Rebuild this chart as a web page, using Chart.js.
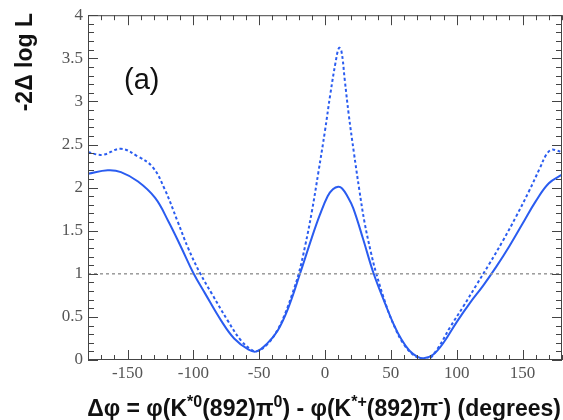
<!DOCTYPE html>
<html>
<head>
<meta charset="utf-8">
<script src="https://cdn.jsdelivr.net/npm/chart.js@4.4.1/dist/chart.umd.min.js"></script>
<style>
  html, body { margin: 0; padding: 0; background: #fff; }
  #wrap { width: 563px; height: 420px; }
</style>
</head>
<body>
<div id="wrap"><canvas id="scanChart" width="563" height="420"></canvas></div>
<script>
// scan of -2 delta log L versus the phase difference (degrees)
const solidPhi = [-180, -165, -155, -142, -129, -119, -109, -100, -91, -79, -69, -58, -52, -44, -36, -28, -19, -10, -4, 2, 6, 10, 13, 17, 21.5, 29, 37, 45, 52, 58, 64, 70, 75, 82, 90, 100, 110, 120, 130, 140, 150, 160, 170, 180]
const solidVal = [2.16, 2.20, 2.18, 2.07, 1.88, 1.61, 1.30, 1.01, 0.77, 0.46, 0.25, 0.12, 0.10, 0.19, 0.34, 0.60, 1.00, 1.42, 1.68, 1.90, 1.98, 2.01, 1.99, 1.90, 1.76, 1.40, 1.00, 0.68, 0.42, 0.24, 0.11, 0.04, 0.02, 0.06, 0.20, 0.44, 0.66, 0.86, 1.08, 1.32, 1.58, 1.84, 2.05, 2.15]

const dashPhi = [-180, -169, -155, -142, -131, -122, -112, -104, -95, -86, -74, -64, -56, -52, -44, -36, -30, -25, -20, -15, -10, -5, 0, 4, 8, 10.6, 12.5, 15, 18, 22, 26, 30, 35, 39, 47, 53, 59.5, 68, 77, 85, 95, 105, 115, 125, 135, 145, 155, 163, 168, 172, 176, 180]
const dashVal = [2.41, 2.38, 2.45, 2.36, 2.24, 1.99, 1.61, 1.30, 1.01, 0.77, 0.46, 0.23, 0.12, 0.10, 0.18, 0.35, 0.55, 0.76, 1.00, 1.33, 1.72, 2.18, 2.66, 3.08, 3.45, 3.62, 3.58, 3.25, 2.85, 2.40, 1.98, 1.60, 1.24, 1.00, 0.61, 0.38, 0.19, 0.05, 0.00, 0.12, 0.38, 0.62, 0.87, 1.12, 1.38, 1.66, 1.96, 2.22, 2.38, 2.44, 2.43, 2.41]

const refPhi = [-180, 180]
const refVal = [1, 1]

const xTickLabels = [-150, -100, -50, 0, 50, 100, 150]

const yTitle = '-2\u0394 log L'
// x title pieces: [text, superscript?]
const xTitleParts = [
  ['\u0394\u03c6 = \u03c6(K', false], ['*0', true], ['(892)\u03c0', false], ['0', true],
  [') - \u03c6(K', false], ['*+', true], ['(892)\u03c0', false], ['-', true], [') (degrees)', false]
]
const panelLabel = '(a)'

const blue = '#2a5cf0'

function pts(xs, ys) {
  return xs.map((x, i) => ({ x: x, y: ys[i] }))
}

// frame, inward ticks and the text around the plot
const framePlugin = {
  id: 'frame',
  afterDraw(chart) {
    const ctx = chart.ctx
    const a = chart.chartArea
    const xs = chart.scales.x
    const ys = chart.scales.y
    ctx.save()
    ctx.strokeStyle = '#444'
    ctx.lineWidth = 1
    ctx.strokeRect(a.left + 0.5, a.top + 0.5, a.right - a.left - 1, a.bottom - a.top - 1)

    ctx.beginPath()
    for (let v = -180; v <= 180; v += 10) {
      const px = Math.round(xs.getPixelForValue(v)) + 0.5
      const len = (v % 50 === 0) ? 10 : 5
      ctx.moveTo(px, a.bottom); ctx.lineTo(px, a.bottom - len)
      ctx.moveTo(px, a.top); ctx.lineTo(px, a.top + len)
    }
    for (let k = 0; k <= 40; k++) {
      const py = Math.round(ys.getPixelForValue(k / 10)) + 0.5
      const len = (k % 5 === 0) ? 10 : 6
      ctx.moveTo(a.left, py); ctx.lineTo(a.left + len, py)
      ctx.moveTo(a.right, py); ctx.lineTo(a.right - len, py)
    }
    ctx.stroke()

    ctx.fillStyle = '#111'
    // y title
    ctx.save()
    ctx.translate(26, 13)
    ctx.rotate(-Math.PI / 2)
    ctx.font = 'bold 23px "Liberation Sans", Arial, sans-serif'
    ctx.textAlign = 'right'
    ctx.textBaseline = 'middle'
    ctx.fillText(yTitle, 0, 0)
    ctx.restore()

    // x title with superscripts
    const big = 'bold 23px "Liberation Sans", Arial, sans-serif'
    const small = 'bold 16px "Liberation Sans", Arial, sans-serif'
    let w = 0
    xTitleParts.forEach(p => { ctx.font = p[1] ? small : big; w += ctx.measureText(p[0]).width })
    let cx = 561 - w
    const base = 416
    ctx.textAlign = 'left'
    ctx.textBaseline = 'alphabetic'
    xTitleParts.forEach(p => {
      ctx.font = p[1] ? small : big
      ctx.fillText(p[0], cx, p[1] ? base - 9 : base)
      cx += ctx.measureText(p[0]).width
    })

    // panel label
    ctx.font = '29px "Liberation Sans", Arial, sans-serif'
    ctx.textBaseline = 'middle'
    ctx.fillText(panelLabel, 124, 81)
    ctx.restore()
  }
}

const tickFont = { family: '"Liberation Serif", "Times New Roman", serif', size: 17 }

const ctx = document.getElementById('scanChart').getContext('2d')
let scanChart = new Chart(ctx, {
  type: 'scatter',
  data: {
    datasets: [
      {
        label: 'reference',
        data: pts(refPhi, refVal),
        showLine: true,
        borderColor: '#9a9a9a',
        borderWidth: 1.5,
        borderDash: [3, 3],
        pointRadius: 0
      },
      {
        label: 'dashed',
        data: pts(dashPhi, dashVal),
        showLine: true,
        borderColor: blue,
        borderWidth: 2,
        borderDash: [3, 2.5],
        tension: 0.4,
        pointRadius: 0
      },
      {
        label: 'solid',
        data: pts(solidPhi, solidVal),
        showLine: true,
        borderColor: blue,
        borderWidth: 2,
        tension: 0.4,
        pointRadius: 0
      }
    ]
  },
  options: {
    responsive: false,
    animation: false,
    layout: { padding: { top: 12, right: 1, left: 0, bottom: 0 } },
    plugins: {
      legend: { display: false },
      tooltip: { enabled: false }
    },
    scales: {
      x: {
        type: 'linear',
        min: -180,
        max: 180,
        grid: { display: false, drawTicks: false },
        border: { display: false },
        afterBuildTicks: (s) => { s.ticks = xTickLabels.map(v => ({ value: v })) },
        afterFit: (s) => { s.height = 60 },
        ticks: {
          padding: 3,
          color: '#555',
          maxRotation: 0,
          font: tickFont
        }
      },
      y: {
        min: 0,
        max: 4,
        grid: { display: false, drawTicks: false },
        border: { display: false },
        afterFit: (s) => { s.width = 88 },
        ticks: {
          stepSize: 0.5,
          padding: 5,
          color: '#555',
          font: tickFont,
          callback: (v) => String(v)
        }
      }
    }
  },
  plugins: [framePlugin]
})
</script>
</body>
</html>
